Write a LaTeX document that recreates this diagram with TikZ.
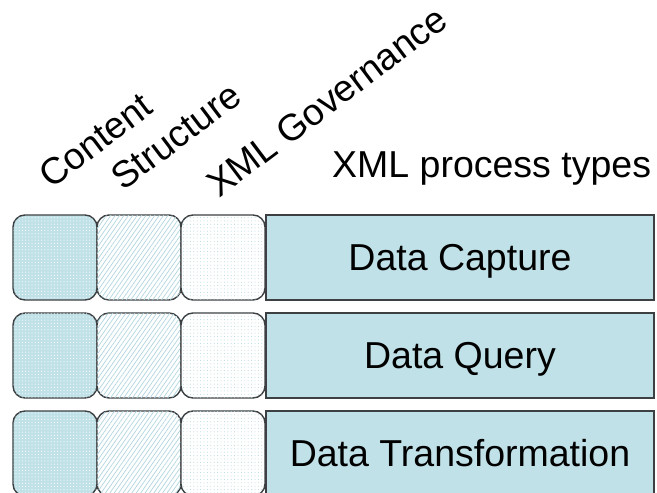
\documentclass[tikz,border=0pt]{standalone}
\usepackage{fontspec}
\setmainfont{Liberation Sans}
\usetikzlibrary{patterns.meta}
\definecolor{procblue}{RGB}{192,225,231}
\definecolor{hatchblue}{RGB}{178,214,224}
\definecolor{edgegray}{RGB}{60,64,66}
\tikzset{
  cell/.style={rectangle, rounded corners=12pt, draw=edgegray, line width=1.4pt,
    minimum width=84pt, minimum height=85pt, inner sep=0pt, outer sep=0pt, anchor=north west},
  contentcell/.style={cell, fill=procblue,
    postaction={pattern={Dots[radius=0.55pt,distance=3.2pt]}, pattern color=white}},
  structcell/.style={cell, fill=white,
    postaction={pattern={Lines[angle=55,distance=3.6pt,line width=0.7pt]}, pattern color=hatchblue}},
  govcell/.style={cell, fill=white,
    postaction={pattern={Dots[radius=0.5pt,distance=3.4pt]}, pattern color=hatchblue}},
  procbox/.style={rectangle, draw=edgegray, line width=1.4pt, fill=procblue,
    minimum width=388pt, minimum height=85pt, inner sep=0pt, outer sep=0pt, anchor=north west},
  proclabel/.style={font=\fontsize{37.5pt}{40pt}\selectfont, anchor=base, inner sep=0pt},
  headlabel/.style={font=\fontsize{37.2pt}{39pt}\selectfont, anchor=base west, inner sep=0pt, rotate=37}
}
\begin{document}
\begin{tikzpicture}[x=1pt,y=-1pt]
  \useasboundingbox (0,0) rectangle (657,493);
  \clip (0,0) rectangle (657,493);

  % column headings
  \node[headlabel] (hcontent) at (51,190) {Content};
  \node[headlabel] (hstruct) at (123,192) {Structure};
  \node[headlabel] (hgov) at (219,199) {XML Governance};
  \node[proclabel, anchor=base west] (htypes) at (332,177) {XML process types};

  % three rows: three rounded cells and one process box each
  \foreach \r/\y/\txt in {1/215/Data Capture, 2/313/Data Query, 3/411/Data Transformation}{
    \node[contentcell] (c\r) at (13,\y) {};
    \node[structcell]  (s\r) at (97,\y) {};
    \node[govcell]     (g\r) at (181,\y) {};
    \node[procbox]     (p\r) at (266,\y) {};
    \node[proclabel] (t\r) at ([yshift=-12.5pt]p\r.center) {\txt};
  }
\end{tikzpicture}
\end{document}
